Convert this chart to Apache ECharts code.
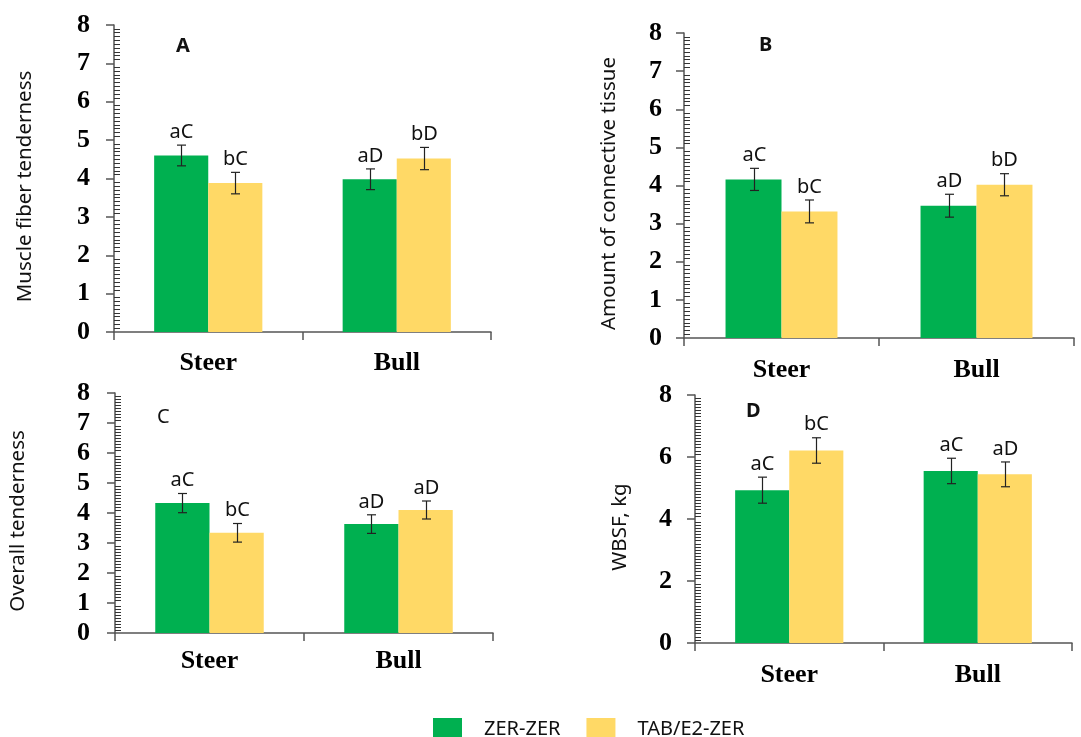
<!DOCTYPE html>
<html>
<head>
<meta charset="utf-8">
<script src="https://cdn.jsdelivr.net/npm/echarts@6/dist/echarts.min.js"></script>
<style>html,body{margin:0;padding:0;background:#fff;}#c{width:1081px;height:737px;}</style>
</head>
<body>
<div id="c"></div>
<script>
var categories = ['Steer', 'Bull'];
var seriesNames = ['ZER-ZER', 'TAB/E2-ZER'];

// Panel A: Muscle fiber tenderness
var aZer = [4.60, 3.98], aZerErr = [0.27, 0.27], aZerLab = ['aC', 'aD'];
var aTab = [3.88, 4.52], aTabErr = [0.28, 0.29], aTabLab = ['bC', 'bD'];
// Panel B: Amount of connective tissue
var bZer = [4.16, 3.47], bZerErr = [0.29, 0.30], bZerLab = ['aC', 'aD'];
var bTab = [3.32, 4.02], bTabErr = [0.30, 0.29], bTabLab = ['bC', 'bD'];
// Panel C: Overall tenderness
var cZer = [4.33, 3.63], cZerErr = [0.32, 0.31], cZerLab = ['aC', 'aD'];
var cTab = [3.34, 4.10], cTabErr = [0.31, 0.30], cTabLab = ['bC', 'aD'];
// Panel D: WBSF, kg
var dZer = [4.93, 5.55], dZerErr = [0.42, 0.41], dZerLab = ['aC', 'aC'];
var dTab = [6.21, 5.44], dTabErr = [0.41, 0.40], dTabLab = ['bC', 'aD'];

var yTicksA = [0, 1, 2, 3, 4, 5, 6, 7, 8];
var yTicksD = [0, 2, 4, 6, 8];

var GREEN = '#00B050', YELLOW = '#FFD966', AXIS = '#555';
var BARW = 0.287;

var panels = [
  {zer: aZer, zerErr: aZerErr, zerLab: aZerLab, tab: aTab, tabErr: aTabErr, tabLab: aTabLab,
   name: 'Muscle fiber tenderness', ticks: yTicksA, grid: {left: 114, top: 25, width: 377, height: 307},
   nameGap: 78, labMargin: 24, catMargin: 18, letter: 'A', lx: 176, ly: 36, bold: 'bold'},
  {zer: bZer, zerErr: bZerErr, zerLab: bZerLab, tab: bTab, tabErr: bTabErr, tabLab: bTabLab,
   name: 'Amount of connective tissue', ticks: yTicksA, grid: {left: 684, top: 33, width: 390, height: 305},
   nameGap: 64, labMargin: 22, catMargin: 19, letter: 'B', lx: 759, ly: 35, bold: 'bold'},
  {zer: cZer, zerErr: cZerErr, zerLab: cZerLab, tab: cTab, tabErr: cTabErr, tabLab: cTabLab,
   name: 'Overall tenderness', ticks: yTicksA, grid: {left: 115, top: 393, width: 378, height: 240},
   nameGap: 86, labMargin: 25, catMargin: 15, letter: 'C', lx: 157, ly: 407, bold: 'normal'},
  {zer: dZer, zerErr: dZerErr, zerLab: dZerLab, tab: dTab, tabErr: dTabErr, tabLab: dTabLab,
   name: 'WBSF, kg', ticks: yTicksD, grid: {left: 695, top: 395, width: 377, height: 248},
   nameGap: 64, labMargin: 23, catMargin: 19, letter: 'D', lx: 746, ly: 401, bold: 'bold'}
];

var grids = [], xAxes = [], yAxes = [], series = [], titles = [];

function errSeries(gi, vals, errs, labs, side) {
  var data = vals.map(function (v, i) { return [i, v, errs[i], labs[i]]; });
  return {
    type: 'custom', xAxisIndex: gi, yAxisIndex: gi * 2, z: 10, silent: true,
    data: data,
    renderItem: function (params, api) {
      var cat = api.value(0), v = api.value(1), e = api.value(2);
      var band = api.size([1, 0])[0];
      var off = side * band * BARW / 2;
      var top = api.coord([cat, v + e]), bot = api.coord([cat, v - e]);
      var x = Math.round(top[0] + off) + 0.5;
      var cap = 4.5;
      var st = {stroke: '#222', lineWidth: 1.2};
      return {
        type: 'group',
        children: [
          {type: 'line', shape: {x1: x, y1: top[1], x2: x, y2: bot[1]}, style: st},
          {type: 'line', shape: {x1: x - cap, y1: top[1], x2: x + cap, y2: top[1]}, style: st},
          {type: 'line', shape: {x1: x - cap, y1: bot[1], x2: x + cap, y2: bot[1]}, style: st},
          {type: 'text', x: x, y: top[1] - 3,
           style: {text: labs[params.dataIndex], fill: '#111', font: '20px "Noto Sans"',
                   align: 'center', verticalAlign: 'bottom'}}
        ]
      };
    }
  };
}

panels.forEach(function (p, gi) {
  grids.push(p.grid);
  var mx = p.ticks[p.ticks.length - 1], iv = p.ticks[1] - p.ticks[0];
  xAxes.push({
    type: 'category', gridIndex: gi, data: categories,
    axisLine: {lineStyle: {color: AXIS, width: 1.5}},
    axisTick: {show: true, length: 8, alignWithLabel: false, lineStyle: {color: AXIS, width: 1.5}},
    axisLabel: {margin: p.catMargin, color: '#000', fontFamily: 'Liberation Serif', fontWeight: 'bold', fontSize: 26}
  });
  yAxes.push({
    type: 'value', gridIndex: gi, min: 0, max: mx, interval: iv, position: 'left',
    name: p.name, nameLocation: 'middle', nameGap: p.nameGap, nameRotate: 90,
    nameTextStyle: {fontFamily: 'Noto Sans', fontSize: 20.5, color: '#111', padding: [0, 16, 0, 0]},
    axisLine: {show: true, lineStyle: {color: AXIS, width: 1.5}},
    axisTick: {show: true, length: 8, lineStyle: {color: AXIS, width: 1.5}},
    splitLine: {show: false},
    axisLabel: {margin: p.labMargin, color: '#000', fontFamily: 'Liberation Serif', fontWeight: 'bold', fontSize: 26}
  });
  yAxes.push({
    type: 'value', gridIndex: gi, min: 0, max: mx, interval: iv, position: 'left', offset: 0,
    axisLine: {show: false}, axisLabel: {show: false}, splitLine: {show: false},
    axisTick: {show: false, inside: true},
    minorTick: {show: true, splitNumber: iv * 10, length: 6, lineStyle: {color: '#333', width: 1}}
  });
  series.push({type: 'bar', name: seriesNames[0], xAxisIndex: gi, yAxisIndex: gi * 2, data: p.zer,
    barWidth: (BARW * 100) + '%', barGap: '0%', itemStyle: {color: GREEN}, silent: true});
  series.push({type: 'bar', name: seriesNames[1], xAxisIndex: gi, yAxisIndex: gi * 2, data: p.tab,
    barWidth: (BARW * 100) + '%', barGap: '0%', itemStyle: {color: YELLOW}, silent: true});
  series.push(errSeries(gi, p.zer, p.zerErr, p.zerLab, -1));
  series.push(errSeries(gi, p.tab, p.tabErr, p.tabLab, 1));
  titles.push({text: p.letter, left: p.lx, top: p.ly, padding: 0,
    textStyle: {fontFamily: 'Noto Sans', fontSize: 20, fontWeight: p.bold, color: '#111'}});
});

var chart = echarts.init(document.getElementById('c'), null, {renderer: 'canvas'});
chart.setOption({
  animation: false,
  backgroundColor: '#fff',
  title: titles,
  legend: {
    data: seriesNames, left: 428, top: 713, itemWidth: 29, itemHeight: 22, itemGap: 26,
    icon: 'rect', selectedMode: false,
    textStyle: {fontFamily: 'Noto Sans', fontSize: 20, color: '#111', padding: [0, 0, 0, 17]}
  },
  grid: grids,
  xAxis: xAxes,
  yAxis: yAxes,
  series: series
});
</script>
</body>
</html>
